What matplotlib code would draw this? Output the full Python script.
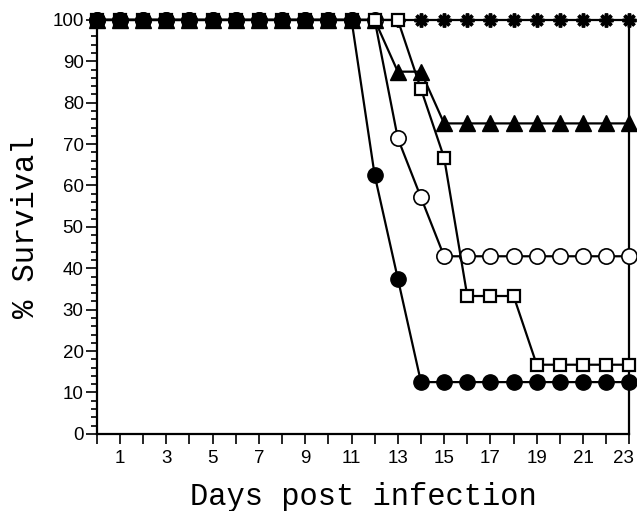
import matplotlib
matplotlib.use("Agg")
import matplotlib.pyplot as plt
import matplotlib.transforms as mtransforms
from matplotlib.ticker import MultipleLocator

days = list(range(0, 24))
surv_asterisk = [100] * 24
surv_filled_circle = [100] * 12 + [62.5, 37.5] + [12.5] * 10
surv_triangle = [100] * 13 + [87.5, 87.5] + [75] * 9
surv_open_circle = [100] * 13 + [71.4, 57.1] + [42.9] * 9
surv_square = [100] * 14 + [83.3, 66.7, 33.3, 33.3, 33.3] + [16.7] * 5

fig = plt.figure(figsize=(6.37, 5.11), dpi=100)
ax = fig.add_axes([0.152, 0.151, 0.836, 0.810])

common = dict(color='black', lw=1.6, clip_on=False, markersize=11)
ax.plot(days, surv_asterisk, marker=(8, 2, 0), markeredgewidth=2.5, markersize=10,
        color='black', lw=1.6, clip_on=False, zorder=3)
ax.plot(days, surv_open_circle, marker='o', markerfacecolor='white',
        markeredgecolor='black', markeredgewidth=1.2, zorder=4, **common)
ax.plot(days, surv_triangle, marker='^', markerfacecolor='black', zorder=5, **common)
ax.plot(days, surv_square, marker='s', markerfacecolor='white',
        markeredgecolor='black', markeredgewidth=1.6, zorder=6, color='black', lw=1.6,
        clip_on=False, markersize=8.5)
ax.plot(days, surv_filled_circle, marker='o', markerfacecolor='black', zorder=7, **common)

ax.set_xlim(0, 23)
ax.set_ylim(0, 100)
ax.set_xticks(days)
ax.set_xticklabels(['' if (d % 2 == 0) else str(d) for d in days])
ax.yaxis.set_major_locator(MultipleLocator(10))
ax.yaxis.set_minor_locator(MultipleLocator(2))

for lab in ax.get_xticklabels() + ax.get_yticklabels():
    lab.set_fontfamily('Liberation Sans')
    lab.set_fontsize(13.5)

ax.tick_params(axis='x', which='major', direction='out', length=7.5, width=1.2, pad=4)
ax.tick_params(axis='y', which='major', direction='out', length=8, width=1.2, pad=1.5)
ax.tick_params(axis='y', which='minor', direction='out', length=4.5, width=1.2)

ax.spines['top'].set_visible(False)
for s in ['left', 'bottom', 'right']:
    ax.spines[s].set_linewidth(1.6)

ax.set_xlabel('Days post infection', fontfamily='Liberation Mono', fontsize=22, labelpad=11)
ax.set_ylabel('% Survival', fontfamily='Liberation Mono', fontsize=22, labelpad=8)

fig.canvas.draw()
lab = ax.get_xticklabels()[-1]
lab.set_transform(lab.get_transform() + mtransforms.ScaledTranslation(-6 / 100, 0, fig.dpi_scale_trans))

fig.savefig('out.png', dpi=100)
